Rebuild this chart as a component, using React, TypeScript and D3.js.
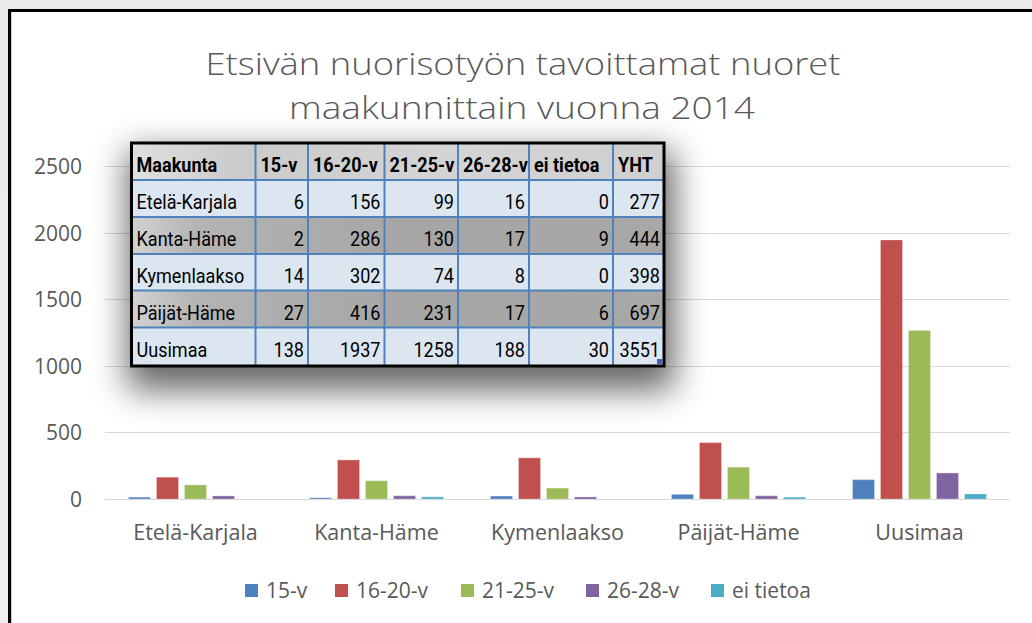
import React from "react";
import * as d3 from "d3";

const categories = ["Etelä-Karjala", "Kanta-Häme", "Kymenlaakso", "Päijät-Häme", "Uusimaa"];
const seriesNames = ["15-v", "16-20-v", "21-25-v", "26-28-v", "ei tietoa"];
const v15 = [6, 2, 14, 27, 138];
const v1620 = [156, 286, 302, 416, 1937];
const v2125 = [99, 130, 74, 231, 1258];
const v2628 = [16, 17, 8, 17, 188];
const vEi = [0, 9, 0, 6, 30];
const totals = [277, 444, 398, 697, 3551];
const yTicks = [0, 500, 1000, 1500, 2000, 2500];
const tableHeader = ["Maakunta", "15-v", "16-20-v", "21-25-v", "26-28-v", "ei tietoa", "YHT"];
const titleLines = ["Etsivän nuorisotyön  tavoittamat nuoret", "maakunnittain vuonna 2014"];

const seriesValues = [v15, v1620, v2125, v2628, vEi];
const colors = ["#4f81bd", "#c0504d", "#9bbb59", "#8064a2", "#4bacc6"];

// layout
const W = 1032, H = 623;
const PLOT_L = 105, PLOT_R = 1010, Y0 = 499, YTOP = 166;
const GROUP_W = 134;
const COL_X = [131.5, 255.5, 308, 384.5, 458, 529, 613, 664];
const ROW_Y = [143, 180, 217, 254, 290.5, 327.5, 366];
const LEGEND_X = [245, 335, 461, 586, 711];
const TEXT = "#595959";
const FONT = "'Open Sans', 'DejaVu Sans', sans-serif";
const TFONT = "Roboto, 'Open Sans', sans-serif";

export default function App() {
  const y = d3.scaleLinear().domain([0, 2500]).range([Y0, YTOP]);
  const x0 = d3.scaleBand<string>().domain(categories).range([PLOT_L, PLOT_R]);
  const x1 = d3.scaleBand<string>().domain(seriesNames).range([0, GROUP_W]).paddingInner(6 / 28);
  const groupOff = (x0.bandwidth() - GROUP_W) / 2;

  const rows = categories.map((c, i) => [c, v15[i], v1620[i], v2125[i], v2628[i], vEi[i], totals[i]]);

  return (
    <svg width={W} height={H} style={{ position: "absolute", left: 0, top: 0, display: "block" }}>
      <defs>
        <linearGradient id="bgGrad" x1="0" y1="0" x2="0" y2="1">
          <stop offset="0" stopColor="#eaeaea" />
          <stop offset="1" stopColor="#efefef" />
        </linearGradient>
        <filter id="shadow" x="-50%" y="-50%" width="200%" height="200%">
          <feGaussianBlur stdDeviation="17" />
        </filter>
        <linearGradient id="grayRow" x1="0" y1="0" x2="1" y2="0">
          <stop offset="0" stopColor="#d2d2d2" />
          <stop offset="0.12" stopColor="#b4b4b4" />
          <stop offset="0.5" stopColor="#a6a6a6" />
          <stop offset="1" stopColor="#a8a8a8" />
        </linearGradient>
        <linearGradient id="headRow" x1="0" y1="0" x2="1" y2="0">
          <stop offset="0" stopColor="#e0e0e0" />
          <stop offset="0.2" stopColor="#cbcbcb" />
          <stop offset="0.6" stopColor="#d4d4d4" />
          <stop offset="1" stopColor="#cfcfcf" />
        </linearGradient>
      </defs>

      <rect x={0} y={0} width={W} height={H} fill="url(#bgGrad)" />
      <rect x={9.5} y={10.5} width={W + 20} height={H + 20} fill="#ffffff" stroke="#000" strokeWidth={3} />
      <line x1={11.5} x2={11.5} y1={12} y2={H} stroke="#d0d0d0" strokeWidth={1} />

      {/* title */}
      <text x={523} y={75} textAnchor="middle" fontFamily={FONT} fontSize={31} fontWeight={300} fill={TEXT}
        textLength={635} lengthAdjust="spacingAndGlyphs">{titleLines[0]}</text>
      <text x={522} y={119} textAnchor="middle" fontFamily={FONT} fontSize={31} fontWeight={300} fill={TEXT}
        textLength={466} lengthAdjust="spacingAndGlyphs">{titleLines[1]}</text>

      {/* gridlines and y labels */}
      {yTicks.map((t) => (
        <g key={t}>
          <line x1={PLOT_L} x2={PLOT_R} y1={Math.round(y(t)) + 0.5} y2={Math.round(y(t)) + 0.5} stroke="#d9d9d9" strokeWidth={1} />
          <text x={82} y={y(t) + 8} textAnchor="end" fontFamily={FONT} fontSize={21} fill={TEXT}>{t}</text>
        </g>
      ))}

      {/* bars */}
      {categories.map((c, ci) => (
        <g key={c}>
          {seriesNames.map((s, si) => {
            const v = seriesValues[si][ci];
            if (v <= 0) return null;
            const top = y(v);
            return (
              <rect key={s} x={(x0(c) as number) + groupOff + (x1(s) as number) + 0.5} y={top - 0.5}
                width={x1.bandwidth() - 1} height={Math.max(Y0 - top, 0)} fill={colors[si]}
                stroke={colors[si]} strokeOpacity={0.75} strokeWidth={1} />
            );
          })}
          <text x={(x0(c) as number) + x0.bandwidth() / 2} y={540} textAnchor="middle" fontFamily={FONT}
            fontSize={21.5} fill={TEXT}>{c}</text>
        </g>
      ))}

      {/* table shadow */}
      <rect x={COL_X[0] - 4} y={ROW_Y[0] + 8} width={COL_X[7] - COL_X[0] + 14} height={ROW_Y[6] - ROW_Y[0] + 16}
        fill="#000" opacity={0.6} filter="url(#shadow)" />

      {/* table */}
      <g>
        {ROW_Y.slice(0, 6).map((ry, ri) => (
          <rect key={ri} x={COL_X[0]} y={ry} width={COL_X[7] - COL_X[0]} height={ROW_Y[ri + 1] - ry}
            fill={ri === 0 ? "url(#headRow)" : ri % 2 === 0 ? "url(#grayRow)" : "#dce6f1"} />
        ))}
        {COL_X.slice(1, 7).map((cx, i) => (
          <line key={"c" + i} x1={cx} x2={cx} y1={ROW_Y[0]} y2={ROW_Y[6]} stroke="#4f81bd" strokeWidth={2} />
        ))}
        {ROW_Y.slice(1, 6).map((ry, i) => (
          <line key={"r" + i} x1={COL_X[0]} x2={COL_X[7]} y1={ry} y2={ry} stroke="#4f81bd" strokeWidth={2} />
        ))}
        {tableHeader.map((h, i) => (
          <text key={h} transform={`translate(${COL_X[i] + 5},${ROW_Y[0] + 29}) scale(0.86,1)`}
            fontFamily={TFONT} fontWeight="bold" fontSize={21} fill="#000">{h}</text>
        ))}
        {rows.map((r, ri) =>
          r.map((cell, ci) =>
            ci === 0 ? (
              <text key={ri + "-" + ci} transform={`translate(${COL_X[0] + 5},${ROW_Y[ri + 1] + 29}) scale(0.86,1)`}
                fontFamily={TFONT} fontSize={21} fill="#000">{cell}</text>
            ) : (
              <text key={ri + "-" + ci} transform={`translate(${COL_X[ci + 1] - 4},${ROW_Y[ri + 1] + 29}) scale(0.86,1)`}
                textAnchor="end" fontFamily={TFONT} fontSize={21} fill="#000">{cell}</text>
            )
          )
        )}
        <rect x={COL_X[0]} y={ROW_Y[0]} width={COL_X[7] - COL_X[0]} height={ROW_Y[6] - ROW_Y[0]}
          fill="none" stroke="#000" strokeWidth={3} />
        <rect x={COL_X[7] - 7} y={ROW_Y[6] - 7} width={5} height={5} fill="#3b5fc0" />
      </g>

      {/* legend */}
      {seriesNames.map((s, i) => (
        <g key={s}>
          <rect x={LEGEND_X[i]} y={584} width={13} height={13} fill={colors[i]} />
          <text x={LEGEND_X[i] + 21} y={598} fontFamily={FONT} fontSize={21} fill={TEXT}>{s}</text>
        </g>
      ))}
    </svg>
  );
}
